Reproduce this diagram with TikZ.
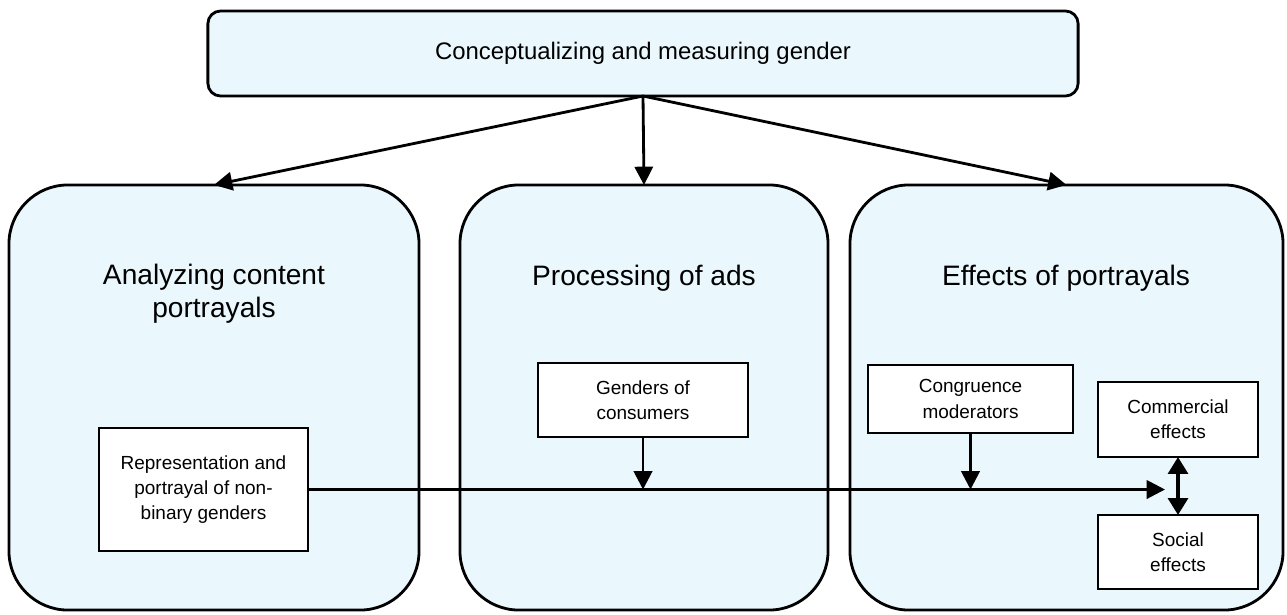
\documentclass[tikz,border=0pt]{standalone}
\usepackage{fontspec}
\setmainfont{Liberation Sans}
\usetikzlibrary{arrows.meta,positioning}
\definecolor{panelblue}{RGB}{234,247,253}

\tikzset{
  panel/.style={draw, line width=2pt, fill=panelblue, rounded corners=42pt,
                inner sep=0pt, outer sep=0pt},
  headbox/.style={draw, line width=2pt, fill=panelblue, rounded corners=9pt,
                  inner sep=0pt, outer sep=0pt,
                  font=\fontsize{17}{21}\selectfont},
  paneltitle/.style={align=center, font=\fontsize{20}{23.5}\selectfont},
  itembox/.style={draw, line width=1.8pt, fill=white, align=center,
                  inner sep=0pt, outer sep=0pt,
                  font=\fontsize{13.5}{18}\selectfont},
  arr/.style={line width=2pt, -{Triangle[length=13pt,width=13pt]}},
  dblarr/.style={line width=2.6pt, {Triangle[length=12pt,width=14pt]}-{Triangle[length=12pt,width=14pt]}}
}

\begin{document}
\begin{tikzpicture}[x=0.025cm, y=-0.025cm]
  \useasboundingbox (0,0) rectangle (1287,614);

  % top box
  \node[headbox, minimum width=21.75cm, minimum height=2.125cm] (top) at (643,53.5)
       {Conceptualizing and measuring gender};

  % the three panels
  \node[panel, minimum width=10.25cm, minimum height=10.625cm] (ana) at (214,397.5) {};
  \node[panel, minimum width=9.2cm, minimum height=10.625cm] (proc) at (644,397.5) {};
  \node[panel, minimum width=10.825cm, minimum height=10.625cm] (eff) at (1066.5,397.5) {};

  \node[paneltitle] (anat) at (214,294) {Analyzing content\\portrayals};
  \node[paneltitle] (proct) at (644,278) {Processing of ads};
  \node[paneltitle] (efft) at (1066,278) {Effects of portrayals};

  \draw[arr] (top.south) -- (ana.north);
  \draw[arr] (top.south) -- (proc.north);
  \draw[arr] (top.south) -- (eff.north);

  % inner boxes
  \node[itembox, minimum width=5.225cm, minimum height=3.075cm] (rep) at (203.5,489.5)
       {Representation and\\portrayal of non-\\binary genders};
  \node[itembox, minimum width=5.25cm, minimum height=1.85cm] (gend) at (643,400)
       {Genders of\\consumers};
  \node[itembox, minimum width=5.125cm, minimum height=1.7cm] (cong) at (970.5,399)
       {Congruence\\moderators};
  \node[itembox, minimum width=4cm, minimum height=1.875cm] (com) at (1178,419.5)
       {Commercial\\effects};
  \node[itembox, minimum width=4cm, minimum height=1.85cm] (soc) at (1178,552)
       {Social\\effects};

  % connectors
  \coordinate (tip) at (1165,489.5);
  \draw[arr] (rep.east) -- (tip);
  \draw[arr] (gend.south) -- (gend.south |- rep.east);
  \draw[arr] (cong.south) -- (cong.south |- rep.east);
  \draw[dblarr] (com.south) -- (soc.north);
\end{tikzpicture}
\end{document}
